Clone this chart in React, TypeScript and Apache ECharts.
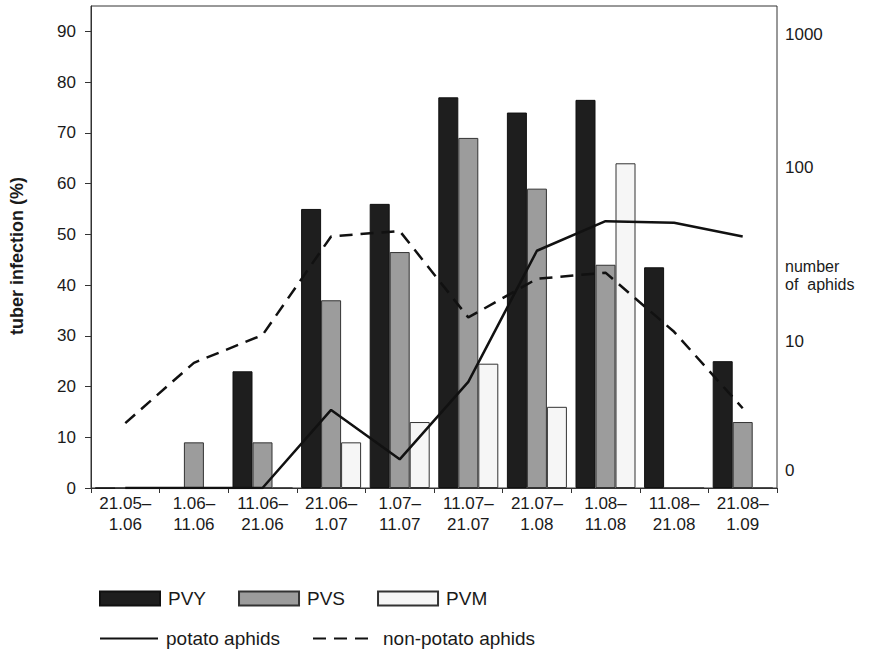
import React, { useEffect, useRef } from 'react';
import * as echarts from 'echarts';

// ---- data ----
const categories = [
  '21.05–\n1.06', '1.06–\n11.06', '11.06–\n21.06', '21.06–\n1.07', '1.07–\n11.07',
  '11.07–\n21.07', '21.07–\n1.08', '1.08–\n11.08', '11.08–\n21.08', '21.08–\n1.09',
];
const pvy = [0, 0, 23, 55, 56, 77, 74, 76.5, 43.5, 25];
const pvs = [0, 9, 9, 37, 46.5, 69, 59, 44, 0, 13];
const pvm = [0, 0, 0, 9, 13, 24.5, 16, 64, 0, 0];
const potatoAphids = [0, 0, 0, 2.6, 0.6, 4.7, 34, 50, 49, 41];
const nonPotatoAphids = [1.9, 6.8, 11, 41, 44, 14, 23.5, 25.5, 11.5, 2.7];
const leftTicks = [0, 10, 20, 30, 40, 50, 60, 70, 80, 90];
const rightTickCounts = [0, 10, 100, 1000];
const rightTickLabels = ['0', '10', '100', '1000'];

// right axis (number of aphids) is a log(count+1) scale, anchored to the printed labels
const rightAnchorCounts = [0, 10, 100, 1000];
const rightAnchorPos = [0, 28.8, 63.2, 89.4];
const ZERO_LABEL_LIFT = 3.4;

function toAxis(c: number): number {
  const L = Math.log10(c + 1);
  const aL = rightAnchorCounts.map((a) => Math.log10(a + 1));
  for (let i = 0; i < aL.length - 1; i++) {
    if (L <= aL[i + 1] || i === aL.length - 2) {
      const t = (L - aL[i]) / (aL[i + 1] - aL[i]);
      return rightAnchorPos[i] + t * (rightAnchorPos[i + 1] - rightAnchorPos[i]);
    }
  }
  return 0;
}

const rightLabelPos = rightTickCounts.map((c) => (c === 0 ? ZERO_LABEL_LIFT : toAxis(c)));

const FONT = '"Liberation Sans", Arial, Helvetica, sans-serif';
const INK = '#1a1a1a';

export default function App() {
  const ref = useRef<HTMLDivElement>(null);
  useEffect(() => {
    if (!ref.current) return;
    const chart = echarts.init(ref.current, undefined, { renderer: 'svg' });
    const legendText = { fontFamily: FONT, fontSize: 19, color: INK, padding: [0, 0, 0, 3] };
    chart.setOption({
      animation: false,
      backgroundColor: '#ffffff',
      textStyle: { fontFamily: FONT },
      grid: {
        left: 91, right: 102, top: 6, bottom: 164,
        show: true, borderColor: '#333', borderWidth: 1, backgroundColor: 'transparent',
      },
      graphic: [
        {
          type: 'text', x: 17, y: 256, rotation: Math.PI / 2,
          style: {
            text: 'tuber infection (%)', font: `bold 18px ${FONT}`, fill: INK,
            textAlign: 'center', textVerticalAlign: 'middle',
          },
        },
        {
          type: 'text', left: 785, top: 257,
          style: { text: 'number\nof  aphids', font: `16px ${FONT}`, fill: INK, lineHeight: 18 },
        },
      ],
      legend: [
        {
          data: ['PVY', 'PVS', 'PVM'], left: 94, top: 584, itemWidth: 60, itemHeight: 14,
          itemGap: 32, textStyle: legendText, icon: 'rect',
        },
        {
          data: ['potato aphids'], left: 94, top: 624, itemWidth: 58, itemHeight: 14,
          textStyle: legendText, itemStyle: { opacity: 0 },
        },
        {
          data: ['non-potato aphids'], left: 307, top: 624, itemWidth: 58, itemHeight: 14,
          textStyle: { ...legendText, padding: [0, 0, 0, 7] }, itemStyle: { opacity: 0 },
        },
      ],
      xAxis: {
        type: 'category', data: categories,
        axisLine: { lineStyle: { color: '#333', width: 1 } },
        axisTick: { show: true, length: 5, lineStyle: { color: '#333' } },
        axisLabel: { color: INK, fontSize: 17, lineHeight: 21, margin: 5, fontFamily: FONT },
      },
      yAxis: [
        {
          type: 'value', min: 0, max: 95, interval: 10, position: 'left',
          axisLine: { show: true, lineStyle: { color: '#333' } },
          axisTick: { show: true, length: 6, customValues: leftTicks, lineStyle: { color: '#333' } },
          axisLabel: { color: INK, fontSize: 17, margin: 15, customValues: leftTicks, fontFamily: FONT },
          splitLine: { show: false },
        },
        {
          type: 'value', min: 0, max: 95, position: 'right',
          axisLine: { show: false }, axisTick: { show: false }, splitLine: { show: false },
          axisLabel: {
            color: INK, fontSize: 17, margin: 8, fontFamily: FONT,
            customValues: rightLabelPos,
            formatter: (v: number) => {
              let best = 0;
              rightLabelPos.forEach((p, i) => { if (Math.abs(p - v) < Math.abs(rightLabelPos[best] - v)) best = i; });
              return rightTickLabels[best];
            },
          },
        },
      ],
      series: [
        {
          name: 'PVY', type: 'bar', data: pvy, barWidth: 20, barGap: '0%',
          itemStyle: { color: '#1e1e1e', borderColor: '#111', borderWidth: 1 },
        },
        {
          name: 'PVS', type: 'bar', data: pvs, barWidth: 20, barGap: '0%',
          itemStyle: { color: '#9c9c9c', borderColor: '#333', borderWidth: 1 },
        },
        {
          name: 'PVM', type: 'bar', data: pvm, barWidth: 20, barGap: '0%',
          itemStyle: { color: '#f6f6f6', borderColor: '#333', borderWidth: 1 },
        },
        {
          name: 'potato aphids', type: 'line', yAxisIndex: 1, symbol: 'none', z: 5,
          data: potatoAphids.map(toAxis),
          lineStyle: { color: '#111', width: 2.5 },
          itemStyle: { color: '#111' },
        },
        {
          name: 'non-potato aphids', type: 'line', yAxisIndex: 1, symbol: 'none', z: 5,
          data: nonPotatoAphids.map(toAxis),
          lineStyle: { color: '#111', width: 2.5, type: [13, 8] },
          itemStyle: { color: '#111' },
        },
      ],
    });
    return () => chart.dispose();
  }, []);
  return (
    <div
      ref={ref}
      style={{ position: 'fixed', left: 0, top: 0, width: 879, height: 652, background: '#fff' }}
    />
  );
}
